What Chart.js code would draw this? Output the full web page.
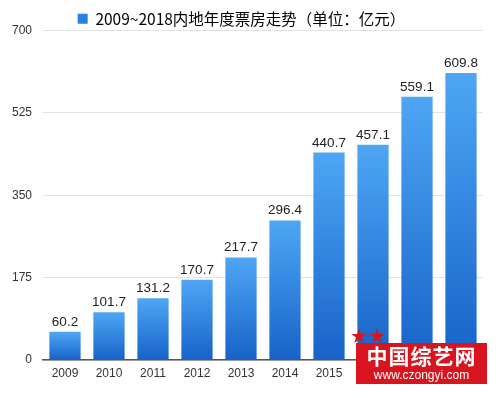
<!DOCTYPE html>
<html>
<head>
<meta charset="utf-8">
<script src="https://cdn.jsdelivr.net/npm/chart.js@4"></script>
<style>
    html, body { margin: 0; padding: 0; background: #fff; }
    #wrap { position: relative; width: 500px; height: 398px; }
    #mark { position: absolute; left: 356px; top: 343px; width: 131px; height: 41px; background: #d8141e; color: #fff; text-align: center; font-family: "Noto Sans CJK SC", sans-serif; }
    #mark .cn { font-size: 21px; font-weight: bold; line-height: 25px; letter-spacing: 1px; }
    #mark .url { font-size: 12px; line-height: 14px; font-family: "Liberation Sans", sans-serif; }
    #stars { position: absolute; left: 350px; top: 326px; color: #d8141e; font-size: 20px; line-height: 20px; }
</style>
</head>
<body>
<div id="wrap">
    <canvas id="myChart" width="500" height="398"></canvas>
    <div id="stars">★★</div>
    <div id="mark"><div class="cn">中国综艺网</div><div class="url">www.czongyi.com</div></div>
</div>
<script>
const years = ['2009', '2010', '2011', '2012', '2013', '2014', '2015', '2016', '2017', '2018'];
const boxOffice = [60.2, 101.7, 131.2, 170.7, 217.7, 296.4, 440.7, 457.1, 559.1, 609.8];
const yTicks = [0, 175, 350, 525, 700];
const seriesName = '2009~2018内地年度票房走势（单位：亿元）';

const fontFamily = '"Liberation Sans", "Noto Sans CJK SC", sans-serif';

function barGradient(context) {
    const chart = context.chart;
    const area = chart.chartArea;
    if (!area || context.dataIndex === undefined) return '#2a80e0';
    const y = chart.scales.y;
    const top = y.getPixelForValue(context.raw);
    const bottom = y.getPixelForValue(0);
    const g = chart.ctx.createLinearGradient(0, top, 0, bottom);
    g.addColorStop(0, '#4ea6f4');
    g.addColorStop(1, '#1763c9');
    return g;
}

const valueLabels = {
    id: 'valueLabels',
    afterDatasetsDraw(chart) {
        const ctx = chart.ctx;
        const meta = chart.getDatasetMeta(0);
        ctx.save();
        ctx.font = '13.5px ' + fontFamily;
        ctx.fillStyle = '#222';
        ctx.textAlign = 'center';
        ctx.textBaseline = 'bottom';
        meta.data.forEach((bar, i) => {
            ctx.fillText(boxOffice[i].toFixed(1), bar.x, bar.y - 3);
        });
        ctx.restore();
    }
};

// nudge the legend down a bit, closer to the plot like in the original
const legendNudge = {
    id: 'legendNudge',
    afterLayout(chart) {
        chart.legend.top += 6;
        chart.legend.bottom += 6;
    }
};

const data = {
    labels: years,
    datasets: [{
        label: seriesName,
        data: boxOffice,
        backgroundColor: barGradient,
        borderWidth: 0,
        barPercentage: 0.71,
        categoryPercentage: 1.0,
    }]
};

const config = {
    type: 'bar',
    data: data,
    options: {
        responsive: false,
        animation: false,
        layout: { padding: { top: 5, right: 17, left: 0, bottom: 0 } },
        plugins: {
            tooltip: { enabled: false },
            legend: {
                labels: {
                    font: { size: 15.5, family: '"Noto Sans CJK SC", "Liberation Sans", sans-serif' },
                    color: '#222',
                    boxWidth: 10,
                    boxHeight: 10,
                    padding: 0,
                    generateLabels: (chart) => [{
                        text: seriesName,
                        fillStyle: '#2a80e0',
                        strokeStyle: '#2a80e0',
                        lineWidth: 0,
                        datasetIndex: 0,
                    }]
                }
            }
        },
        scales: {
            x: {
                grid: { display: false, drawTicks: false },
                border: { color: '#555', width: 1.5 },
                ticks: { color: '#333', font: { size: 12, family: fontFamily }, padding: 6 },
                afterFit: (s) => { s.height = 38; }
            },
            y: {
                min: 0,
                max: 700,
                afterBuildTicks: (s) => { s.ticks = yTicks.map(v => ({ value: v })); },
                grid: { color: '#e2e2e2', drawTicks: false },
                border: { display: false },
                ticks: { color: '#333', font: { size: 12, family: fontFamily }, padding: 11 },
                afterFit: (s) => { s.width = 43; }
            }
        }
    },
    plugins: [valueLabels, legendNudge]
};

const myChart = new Chart(
    document.getElementById('myChart'),
    config
);
</script>
</body>
</html>
